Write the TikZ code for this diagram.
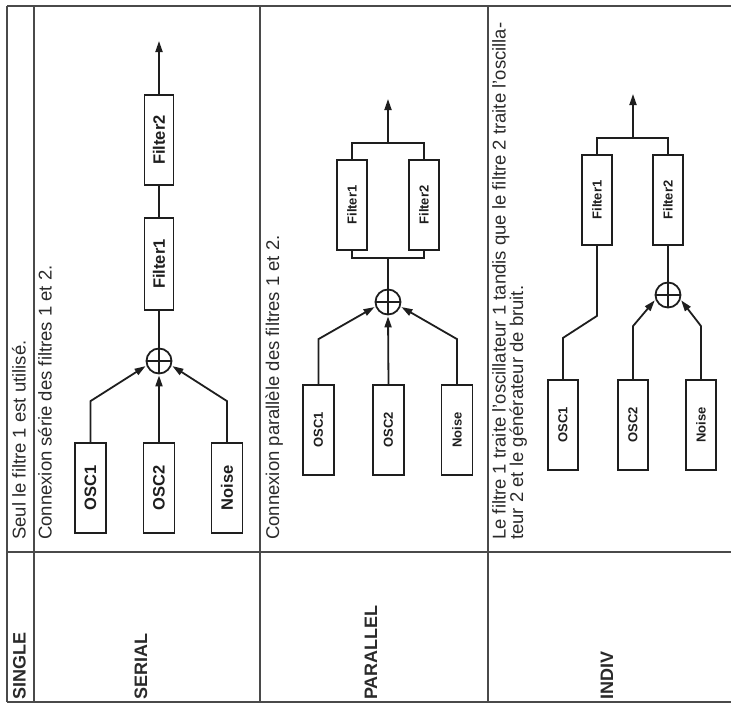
\documentclass[tikz,border=0pt]{standalone}
\usepackage{fontspec}
\setmainfont{Liberation Sans}
\usetikzlibrary{arrows.meta}
\definecolor{ink}{HTML}{1E1E1E}
\definecolor{rulec}{HTML}{4A4A4A}
\definecolor{txt}{HTML}{2A2A2A}
\newcommand{\vtxt}[1]{\rotatebox{90}{#1}}
\begin{document}
\begin{tikzpicture}[x=1pt,y=-1pt,
  tline/.style={draw=rulec, line width=1.3pt},
  wire/.style={draw=ink, line width=1.8pt},
  arr/.style={wire, -{Triangle[length=11pt,width=7pt]}, shorten >=1pt},
  blkbig/.style={draw=ink, line width=1.8pt, fill=white, minimum width=29pt, minimum height=90pt, inner sep=0pt, text=ink, font=\fontsize{16.5}{18}\selectfont\bfseries},
  blksmall/.style={blkbig, minimum width=30pt, font=\fontsize{13}{14}\selectfont\bfseries},
  sumnode/.style={draw=ink, line width=1.8pt, circle, minimum size=25pt, inner sep=0pt, fill=white},
  desc/.style={rotate=90, anchor=base west, inner sep=0pt, text=txt, font=\fontsize{18.5}{18}\selectfont},
  lbl/.style={desc, font=\fontsize{18}{18}\selectfont\bfseries},
]
\useasboundingbox (0,0) rectangle (731,707);

% ---------- table ----------
\draw[tline] (7,6) -- (731,6);
\draw[tline] (7,702) -- (731,702);
\draw[tline] (7,552) -- (731,552);
\draw[tline] (7,6) -- (7,702);
\draw[tline] (34,6) -- (34,702);
\draw[tline] (260,6) -- (260,702);
\draw[tline] (488,6) -- (488,702);

% ---------- texts ----------
\node[desc] (d1) at (25.5,540) {Seul le filtre 1 est utilisé.};
\node[desc] (d2) at (51.5,540) {Connexion série des filtres 1 et 2.};
\node[desc] (d3) at (279,540) {Connexion parallèle des filtres 1 et 2.};
\node[desc] (d4a) at (505.5,540) {Le filtre 1 traite l'oscillateur 1 tandis que le filtre 2 traite l'oscilla-};
\node[desc] (d4b) at (523,540) {teur 2 et le générateur de bruit.};

\node[lbl] (l1) at (25.5,700) {SINGLE};
\node[lbl] (l2) at (147,700) {SERIAL};
\node[lbl] (l3) at (377,700) {PARALLEL};
\node[lbl] (l4) at (613,700) {INDIV};

% ---------- SERIAL ----------
\node[blkbig] (sf2) at (159,140) {\vtxt{Filter2}};
\node[blkbig, minimum height=92pt] (sf1) at (159,264) {\vtxt{Filter1}};
\node[sumnode] (ssum) at (159,361) {};
\draw[wire] (ssum.north) -- (ssum.south) (ssum.west) -- (ssum.east);
\node[blkbig, minimum width=31pt] (sosc1) at (90.5,488) {\vtxt{OSC1}};
\node[blkbig, minimum width=31pt] (sosc2) at (159,488) {\vtxt{OSC2}};
\node[blkbig, minimum width=31pt] (snoise) at (227,488) {\vtxt{Noise}};
\coordinate (sout) at (159,40);
\draw[arr] (sf2.north) -- (sout);
\draw[wire] (sf1.north) -- (sf2.south);
\draw[wire] (ssum.north) -- (sf1.south);
\draw[arr] (sosc2.north) -- (ssum.south);
\draw[arr] (sosc1.north) -- ++(0,-41) -- (ssum.200);
\draw[arr] (snoise.north) -- ++(0,-41) -- (ssum.340);

% ---------- PARALLEL ----------
\node[blksmall] (pf1) at (352,205) {\vtxt{Filter1}};
\node[blksmall] (pf2) at (424,205) {\vtxt{Filter2}};
\node[sumnode] (psum) at (388,302) {};
\draw[wire] (psum.north) -- (psum.south) (psum.west) -- (psum.east);
\node[blksmall, minimum width=31pt] (posc1) at (318.5,430) {\vtxt{OSC1}};
\node[blksmall, minimum width=31pt] (posc2) at (388.5,430) {\vtxt{OSC2}};
\node[blksmall, minimum width=31pt] (pnoise) at (457,430) {\vtxt{Noise}};
\coordinate (ptop) at (388,143);
\coordinate (pout) at (388,98);
\coordinate (pbot) at (388,258);
\draw[wire] (pf1.north) |- (ptop) -| (pf2.north);
\draw[arr] (ptop) -- (pout);
\draw[wire] (pf1.south) |- (pbot) -| (pf2.south);
\draw[wire] (pbot) -- (psum.north);
\draw[arr] (posc2.north) -- (psum.south);
\draw[arr] (posc1.north) -- ++(0,-45) -- (psum.200);
\draw[arr] (pnoise.north) -- ++(0,-45) -- (psum.340);

% ---------- INDIV ----------
\node[blksmall] (if1) at (597,200) {\vtxt{Filter1}};
\node[blksmall] (if2) at (668,200) {\vtxt{Filter2}};
\node[sumnode] (isum) at (668,295) {};
\draw[wire] (isum.north) -- (isum.south) (isum.west) -- (isum.east);
\node[blksmall] (iosc1) at (563,425) {\vtxt{OSC1}};
\node[blksmall] (iosc2) at (633,425) {\vtxt{OSC2}};
\node[blksmall] (inoise) at (701,425) {\vtxt{Noise}};
\coordinate (itop) at (633,138);
\coordinate (iout) at (633,93);
\draw[wire] (if1.north) |- (itop) -| (if2.north);
\draw[arr] (itop) -- (iout);
\draw[wire] (if1.south) -- ++(0,70) -- ++(-34,22) -- (iosc1.north);
\draw[wire] (if2.south) -- (isum.north);
\draw[arr] (iosc2.north) -- ++(0,-53) -- (isum.200);
\draw[arr] (inoise.north) -- ++(0,-53) -- (isum.340);
\end{tikzpicture}
\end{document}
